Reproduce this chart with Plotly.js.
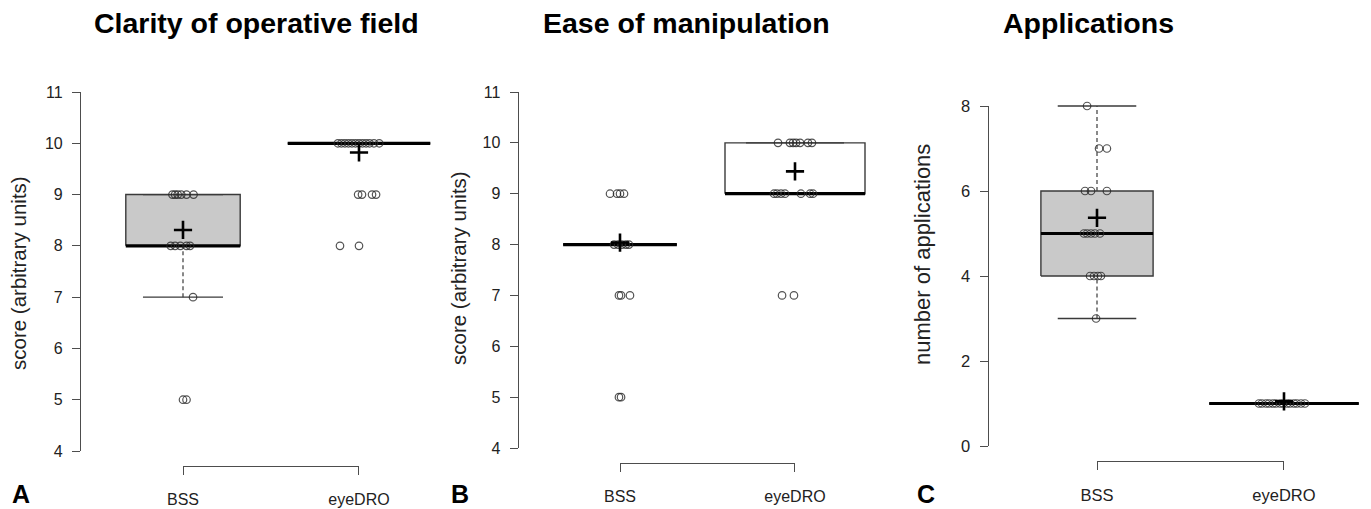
<!DOCTYPE html>
<html>
<head>
<meta charset="utf-8">
<script src="https://cdn.plot.ly/plotly-3.0.1.min.js"></script>
<style>
  html, body { margin: 0; padding: 0; background: #ffffff; }
  #chart { width: 1371px; height: 509px; }
</style>
</head>
<body>
<div id="chart"></div>
<script>
// ---------------- DATA ----------------
const categories = ['BSS', 'eyeDRO'];
const panelTitles = ['Clarity of operative field', 'Ease of manipulation', 'Applications'];
const yTitles = ['score (arbitrary units)', 'score (arbitrary units)', 'number of applications'];
const panelLetters = ['A', 'B', 'C'];
const yTickValsScore = [4, 5, 6, 7, 8, 9, 10, 11];
const yTickValsApps = [0, 2, 4, 6, 8];

// Panel A: clarity of operative field
const clarityQ1 = [8, 10];
const clarityMedian = [8, 10];
const clarityQ3 = [9, 10];
const clarityWhiskerLow = [7, 10];
const clarityWhiskerHigh = [9, 10];
const clarityMean = [8.31, 9.82];
const clarityBSS = [9, 9, 9, 9, 9, 9, 8, 8, 8, 8, 8, 7, 5, 5];
const clarityBSSJitter = [-0.06, -0.045, -0.03, -0.01, 0.02, 0.06, -0.07, -0.045, -0.015, 0.02, 0.04, 0.057, 0.0, 0.02];
const clarityEye = [10, 10, 10, 10, 10, 10, 10, 10, 10, 10, 10, 10, 9, 9, 9, 9, 8, 8];
const clarityEyeJitter = [-0.12, -0.10, -0.08, -0.06, -0.04, -0.02, 0.0, 0.02, 0.04, 0.06, 0.085, 0.115, -0.005, 0.017, 0.074, 0.097, -0.108, 0.0];

// Panel B: ease of manipulation
const easeQ1 = [8, 9];
const easeMedian = [8, 9];
const easeQ3 = [8, 10];
const easeWhiskerLow = [8, 9];
const easeWhiskerHigh = [8, 10];
const easeMean = [8.04, 9.44];
const easeBSS = [9, 9, 9, 9, 8, 8, 8, 8, 8, 7, 7, 7, 5, 5];
const easeBSSJitter = [-0.057, -0.017, 0.0, 0.023, -0.034, -0.011, 0.011, 0.034, 0.051, -0.006, 0.006, 0.057, -0.006, 0.006];
const easeEye = [10, 10, 10, 10, 10, 10, 10, 9, 9, 9, 9, 9, 9, 9, 7, 7];
const easeEyeJitter = [-0.097, -0.029, -0.011, 0.006, 0.029, 0.074, 0.097, -0.12, -0.103, -0.08, -0.057, 0.034, 0.086, 0.103, -0.074, -0.006];

// Panel C: number of applications
const appsQ1 = [4, 1];
const appsMedian = [5, 1];
const appsQ3 = [6, 1];
const appsWhiskerLow = [3, 1];
const appsWhiskerHigh = [8, 1];
const appsMean = [5.37, 1.05];
const appsBSS = [8, 7, 7, 6, 6, 6, 5, 5, 5, 5, 5, 4, 4, 4, 4, 3];
const appsBSSJitter = [-0.053, 0.011, 0.053, -0.064, -0.032, 0.053, -0.07, -0.053, -0.032, -0.011, 0.016, -0.037, -0.016, 0.005, 0.021, -0.005];
const appsEye = [1, 1, 1, 1, 1, 1, 1, 1, 1, 1, 1, 1, 1, 1];
const appsEyeJitter = [-0.134, -0.118, -0.096, -0.080, -0.059, -0.043, -0.021, -0.005, 0.016, 0.032, 0.053, 0.069, 0.091, 0.112];

// ---------------- STYLE / GEOMETRY ----------------
const W = 1371, H = 509;
const FONT = '"Liberation Sans", Arial, Helvetica, sans-serif';
const AXIS_COLOR = '#4d4d4d';
const BOX_LINE = '#3a3a3a';
const boxWidths = [[0.65, 0.81], [0.65, 0.80], [0.60, 0.80]];
const boxFills = [['#c9c9c9', '#c9c9c9'], ['#ffffff', '#ffffff'], ['#c9c9c9', '#c9c9c9']];
// pixel geometry per panel: category centres, y axis first/last tick, bracket line
const geom = [
  { c1: 183, c2: 359, yTopPx: 92, yBotPx: 451, bracketPx: 466, tickFont: 16, labFont: 16, labStandoff: 11, titleX: 256.5, yTitleX: 18, yTitleY: 273, yTitleSize: 20.5, letterX: 21, letterY: 494 },
  { c1: 620, c2: 795, yTopPx: 92, yBotPx: 448, bracketPx: 463, tickFont: 16, labFont: 16, labStandoff: 11, titleX: 686.5, yTitleX: 458, yTitleY: 268, yTitleSize: 20.5, letterX: 460, letterY: 494 },
  { c1: 1097, c2: 1284, yTopPx: 106, yBotPx: 446, bracketPx: 461, tickFont: 16.5, labFont: 16.5, labStandoff: 11, titleX: 1088.5, yTitleX: 922, yTitleY: 255, yTitleSize: 22, letterX: 926, letterY: 494 }
];

const panels = [
  { q1: clarityQ1, med: clarityMedian, q3: clarityQ3, lo: clarityWhiskerLow, hi: clarityWhiskerHigh, mean: clarityMean,
    pts: [clarityBSS, clarityEye], jit: [clarityBSSJitter, clarityEyeJitter], yRange: [4, 11], ticks: yTickValsScore },
  { q1: easeQ1, med: easeMedian, q3: easeQ3, lo: easeWhiskerLow, hi: easeWhiskerHigh, mean: easeMean,
    pts: [easeBSS, easeEye], jit: [easeBSSJitter, easeEyeJitter], yRange: [4, 11], ticks: yTickValsScore },
  { q1: appsQ1, med: appsMedian, q3: appsQ3, lo: appsWhiskerLow, hi: appsWhiskerHigh, mean: appsMean,
    pts: [appsBSS, appsEye], jit: [appsBSSJitter, appsEyeJitter], yRange: [0, 8], ticks: yTickValsApps }
];

const traces = [];
const layout = {
  width: W, height: H,
  margin: { l: 0, r: 0, t: 0, b: 0, pad: 0 },
  paper_bgcolor: '#ffffff',
  plot_bgcolor: 'rgba(0,0,0,0)',
  showlegend: false,
  font: { family: FONT, color: '#222222' },
  annotations: []
};

panels.forEach((p, i) => {
  const g = geom[i];
  const n = i + 1;
  const xs = n === 1 ? '' : String(n);
  const xId = 'x' + xs, yId = 'y' + xs;
  const ppu = g.c2 - g.c1;
  const leftPx = g.c1 - 0.58 * ppu;
  const rightPx = Math.min(g.c1 + 1.58 * ppu, W - 1);

  layout['xaxis' + xs] = {
    domain: [leftPx / W, rightPx / W],
    range: [1 + (leftPx - g.c1) / ppu, 1 + (rightPx - g.c1) / ppu],
    anchor: yId, visible: false, fixedrange: true
  };
  layout['yaxis' + xs] = {
    domain: [1 - g.yBotPx / H, 1 - g.yTopPx / H],
    range: p.yRange, anchor: xId,
    showline: true, linecolor: AXIS_COLOR, linewidth: 1,
    ticks: 'outside', ticklen: 8, tickcolor: AXIS_COLOR, tickwidth: 1,
    tickvals: p.ticks, ticktext: p.ticks.map(String),
    tickfont: { family: FONT, size: g.tickFont, color: '#222222' },
    ticklabelstandoff: 6,
    showgrid: false, zeroline: false, fixedrange: true
  };

  // bracket axis (R-style x axis spanning the two categories)
  const bx = 'x' + (n + 3);
  layout['xaxis' + (n + 3)] = {
    domain: [g.c1 / W, g.c2 / W],
    range: [0.9999, 2.0001],
    anchor: 'free', position: 1 - g.bracketPx / H,
    showline: true, linecolor: AXIS_COLOR, linewidth: 1,
    ticks: 'outside', ticklen: 8, tickcolor: AXIS_COLOR, tickwidth: 1,
    tickvals: [1, 2], ticktext: categories,
    tickfont: { family: FONT, size: g.labFont, color: '#222222' },
    ticklabelstandoff: g.labStandoff,
    showgrid: false, zeroline: false, fixedrange: true
  };
  traces.push({ type: 'scatter', x: [], y: [], xaxis: bx, yaxis: yId, hoverinfo: 'skip', showlegend: false });

  for (let k = 0; k < 2; k++) {
    const c = k + 1;
    const w = boxWidths[i][k];
    // box
    traces.push({
      type: 'scatter', mode: 'lines', xaxis: xId, yaxis: yId, hoverinfo: 'skip',
      x: [c - w / 2, c + w / 2, c + w / 2, c - w / 2, c - w / 2],
      y: [p.q1[k], p.q1[k], p.q3[k], p.q3[k], p.q1[k]],
      fill: 'toself', fillcolor: boxFills[i][k],
      line: { color: BOX_LINE, width: 1.4 }
    });
    // whiskers
    traces.push({
      type: 'scatter', mode: 'lines', xaxis: xId, yaxis: yId, hoverinfo: 'skip',
      x: [c, c, null, c, c],
      y: [p.lo[k], p.q1[k], null, p.q3[k], p.hi[k]],
      line: { color: BOX_LINE, width: 1.2, dash: '4px,3px' }
    });
    // staples
    traces.push({
      type: 'scatter', mode: 'markers', xaxis: xId, yaxis: yId, hoverinfo: 'skip', cliponaxis: false,
      x: [c, c], y: [p.lo[k], p.hi[k]],
      marker: { symbol: 'line-ew', size: (w / 2) * ppu, line: { color: BOX_LINE, width: 1.3 } }
    });
    // median
    traces.push({
      type: 'scatter', mode: 'lines', xaxis: xId, yaxis: yId, hoverinfo: 'skip',
      x: [c - w / 2, c + w / 2], y: [p.med[k], p.med[k]],
      line: { color: '#000000', width: 3.2 }
    });
    // jittered points
    traces.push({
      type: 'scatter', mode: 'markers', xaxis: xId, yaxis: yId, hoverinfo: 'skip', cliponaxis: false,
      x: p.pts[k].map((v, j) => c + p.jit[k][j]), y: p.pts[k],
      marker: { symbol: 'circle-open', size: 7.5, line: { width: 1.2 }, color: 'rgba(40,40,40,0.8)' }
    });
    // mean
    traces.push({
      type: 'scatter', mode: 'markers', xaxis: xId, yaxis: yId, hoverinfo: 'skip', cliponaxis: false,
      x: [c], y: [p.mean[k]],
      marker: { symbol: 'cross-thin', size: 13, line: { color: '#000000', width: 2.6 } }
    });
  }

  // titles and labels
  layout.annotations.push({
    xref: 'paper', yref: 'paper', x: g.titleX / W, y: 1 - 23 / H, xanchor: 'center', yanchor: 'middle',
    text: '<b>' + panelTitles[i] + '</b>', showarrow: false,
    font: { family: FONT, size: 28.5, color: '#000000' }
  });
  layout.annotations.push({
    xref: 'paper', yref: 'paper', x: g.yTitleX / W, y: 1 - g.yTitleY / H, xanchor: 'center', yanchor: 'middle',
    text: yTitles[i], textangle: -90, showarrow: false,
    font: { family: FONT, size: g.yTitleSize, color: '#222222' }
  });
  layout.annotations.push({
    xref: 'paper', yref: 'paper', x: g.letterX / W, y: 1 - g.letterY / H, xanchor: 'center', yanchor: 'middle',
    text: '<b>' + panelLetters[i] + '</b>', showarrow: false,
    font: { family: FONT, size: 25, color: '#000000' }
  });
});

Plotly.newPlot('chart', traces, layout, { staticPlot: true, displayModeBar: false });
</script>
</body>
</html>
